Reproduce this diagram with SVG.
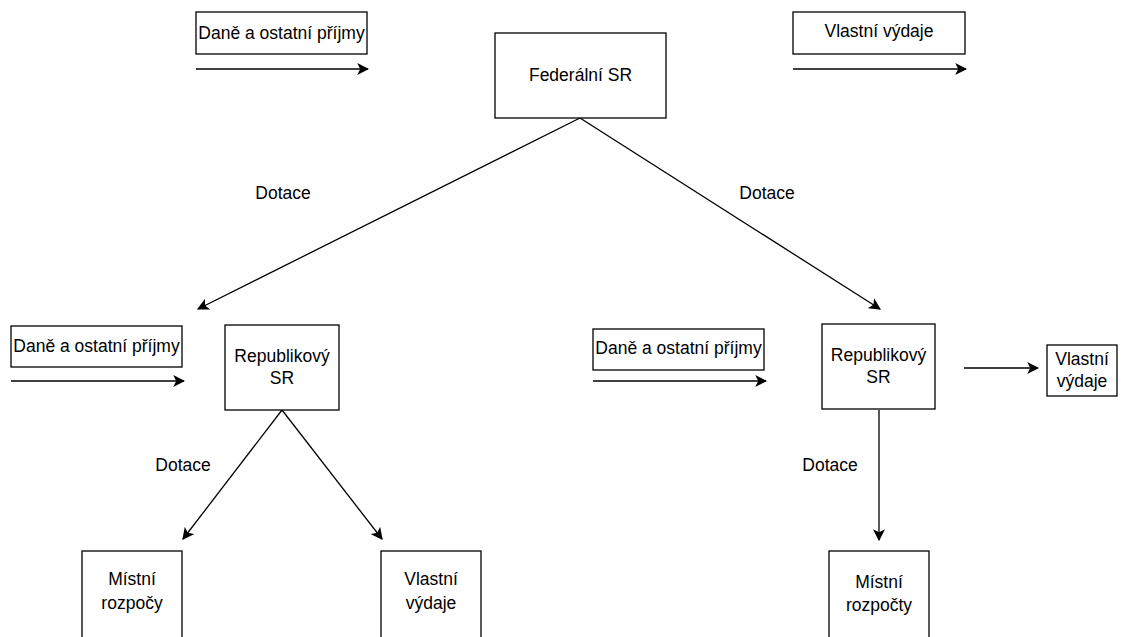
<svg xmlns="http://www.w3.org/2000/svg" width="1136" height="637" viewBox="0 0 1136 637">
<defs>
<style>
.box{fill:#fff;stroke:#000;stroke-width:1.3}
.t{font-family:"Liberation Sans",Arial,sans-serif;font-size:17.5px;fill:#000;text-anchor:middle}
.c{stroke:#000;stroke-width:1.3;fill:none;marker-end:url(#ah)}
</style>
<marker id="ah" viewBox="0 0 10 10" refX="9" refY="5" markerWidth="12" markerHeight="12" markerUnits="userSpaceOnUse" orient="auto">
<path d="M0,0 L10,5 L0,10 L2.5,5 z" fill="#000"/>
</marker>
</defs>
<rect width="1136" height="637" fill="#fff"/>
<g id="connectors">
<line class="c" x1="196" y1="69" x2="368" y2="69"/>
<line class="c" x1="793" y1="69" x2="966" y2="69"/>
<line class="c" x1="580" y1="118" x2="198" y2="309"/>
<line class="c" x1="580" y1="118" x2="880" y2="309"/>
<line class="c" x1="11" y1="381" x2="184" y2="381"/>
<line class="c" x1="593" y1="381" x2="766" y2="381"/>
<line class="c" x1="964" y1="368" x2="1038" y2="368"/>
<line class="c" x1="282" y1="410" x2="183" y2="539"/>
<line class="c" x1="282" y1="410" x2="382" y2="539"/>
<line class="c" x1="879" y1="410" x2="879" y2="540"/>
</g>
<g id="lbl-dotace-1"><text class="t" x="283" y="199">Dotace</text></g>
<g id="lbl-dotace-2"><text class="t" x="767" y="199">Dotace</text></g>
<g id="lbl-dotace-3"><text class="t" x="183" y="471">Dotace</text></g>
<g id="lbl-dotace-4"><text class="t" x="830" y="471">Dotace</text></g>
<g id="dane-top"><rect class="box" x="196" y="12" width="171" height="42"/><text class="t" x="281.5" y="39">Daně a ostatní příjmy</text></g>
<g id="federalni"><rect class="box" x="495" y="33" width="171" height="85"/><text class="t" x="580.5" y="81">Federální SR</text></g>
<g id="vydaje-top"><rect class="box" x="793" y="12" width="172" height="42"/><text class="t" x="879" y="37">Vlastní výdaje</text></g>
<g id="dane-left"><rect class="box" x="11" y="326" width="171" height="41"/><text class="t" x="96.5" y="352">Daně a ostatní příjmy</text></g>
<g id="rep-left"><rect class="box" x="225" y="325" width="114" height="85"/><text class="t" x="282" y="362">Republikový</text><text class="t" x="282" y="384">SR</text></g>
<g id="dane-right"><rect class="box" x="593" y="329" width="171" height="41"/><text class="t" x="678.5" y="354">Daně a ostatní příjmy</text></g>
<g id="rep-right"><rect class="box" x="822" y="324" width="113" height="85"/><text class="t" x="878.5" y="361">Republikový</text><text class="t" x="878.5" y="383">SR</text></g>
<g id="vydaje-right"><rect class="box" x="1047" y="345" width="70" height="51"/><text class="t" x="1082" y="365">Vlastní</text><text class="t" x="1082" y="387">výdaje</text></g>
<g id="mistni-left"><rect class="box" x="82" y="551" width="100" height="100"/><text class="t" x="132" y="585">Místní</text><text class="t" x="132" y="609">rozpočy</text></g>
<g id="vydaje-bottom"><rect class="box" x="381" y="551" width="100" height="100"/><text class="t" x="431" y="585">Vlastní</text><text class="t" x="431" y="609">výdaje</text></g>
<g id="mistni-right"><rect class="box" x="829" y="551" width="100" height="100"/><text class="t" x="879" y="588">Místní</text><text class="t" x="879" y="611">rozpočty</text></g>
</svg>
